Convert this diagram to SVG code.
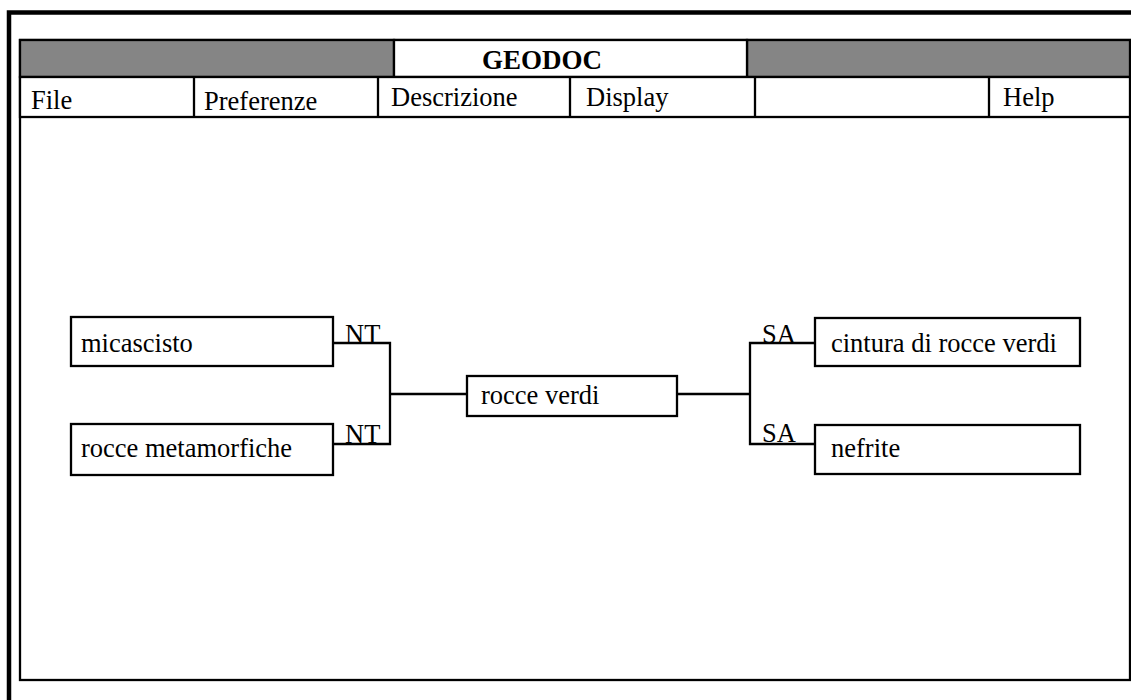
<svg xmlns="http://www.w3.org/2000/svg" width="1131" height="700" viewBox="0 0 1131 700">
<style>
.t{font-family:"Liberation Serif","Times New Roman",serif;font-size:26.5px;fill:#000}
.b{font-weight:bold;font-size:27px}
.box{fill:#fff;stroke:#000;stroke-width:2.3}
.ln{fill:none;stroke:#000;stroke-width:2.3}
.gray{fill:#858585;stroke:#000;stroke-width:2.3}
</style>
<rect x="0" y="0" width="1131" height="700" fill="#fff"/>
<g id="frame">
<path d="M9,700 V12.5 H1131" fill="none" stroke="#000" stroke-width="4.5"/>
</g>
<g id="window">
<rect x="20" y="40" width="1110" height="640" class="box"/>
<rect x="20" y="40" width="374" height="37" class="gray"/>
<rect x="747" y="40" width="383" height="37" class="gray"/>
<rect x="394" y="40" width="353" height="37" class="box"/>
<text x="482" y="69" class="t b">GEODOC</text>
</g>
<g id="menu">
<rect x="20" y="77" width="1110" height="40" class="box"/>
<line x1="194" y1="77" x2="194" y2="117" class="ln"/>
<line x1="378" y1="77" x2="378" y2="117" class="ln"/>
<line x1="570" y1="77" x2="570" y2="117" class="ln"/>
<line x1="755" y1="77" x2="755" y2="117" class="ln"/>
<line x1="989" y1="77" x2="989" y2="117" class="ln"/>
<text x="31" y="109" class="t">File</text>
<text x="204" y="110" class="t">Preferenze</text>
<text x="391" y="106" class="t">Descrizione</text>
<text x="586" y="106" class="t">Display</text>
<text x="1003" y="106" class="t">Help</text>
</g>
<g id="connectors">
<path d="M333,343 H390 V444 H333" class="ln"/>
<path d="M390,394 H467" class="ln"/>
<path d="M677,394 H750" class="ln"/>
<path d="M815,343 H750 V444 H815" class="ln"/>
<text x="345" y="343" class="t">NT</text>
<text x="345" y="443" class="t">NT</text>
<text x="762" y="343" class="t">SA</text>
<text x="762" y="442" class="t">SA</text>
</g>
<g id="node-micascisto">
<rect x="71" y="317" width="262" height="49" class="box"/>
<text x="81" y="352" class="t">micascisto</text>
</g>
<g id="node-rocce-metamorfiche">
<rect x="71" y="424" width="262" height="51" class="box"/>
<text x="81" y="457" class="t">rocce metamorfiche</text>
</g>
<g id="node-rocce-verdi">
<rect x="467" y="376" width="210" height="40" class="box"/>
<text x="481" y="404" class="t">rocce verdi</text>
</g>
<g id="node-cintura">
<rect x="815" y="318" width="265" height="48" class="box"/>
<text x="831" y="352" class="t">cintura di rocce verdi</text>
</g>
<g id="node-nefrite">
<rect x="815" y="425" width="265" height="49" class="box"/>
<text x="831" y="457" class="t">nefrite</text>
</g>
</svg>
